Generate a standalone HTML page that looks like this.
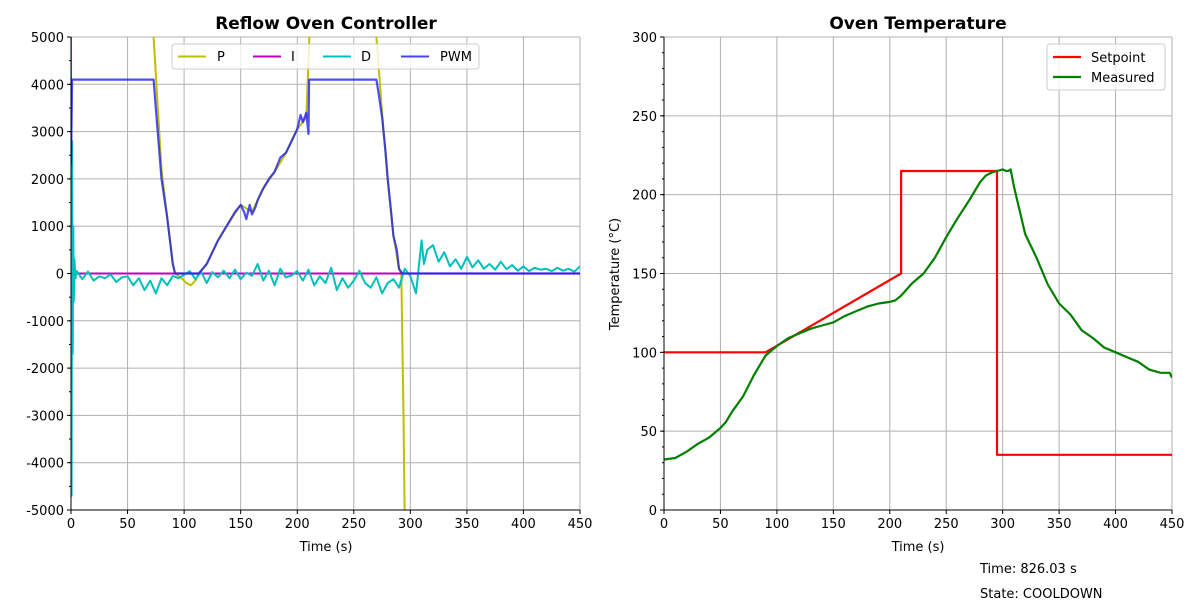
<!DOCTYPE html>
<html><head><meta charset="utf-8"><style>
body{margin:0;background:#fff;font-family:"Liberation Sans","DejaVu Sans",sans-serif}
svg text{font-family:"DejaVu Sans","Liberation Sans",sans-serif}
</style></head><body>
<svg id="s" width="1200" height="600" xmlns="http://www.w3.org/2000/svg">
<text x="326" y="29" text-anchor="middle" font-size="17" font-weight="bold">Reflow Oven Controller</text>
<text x="918" y="29" text-anchor="middle" font-size="17" font-weight="bold">Oven Temperature</text>
<text x="326" y="551" text-anchor="middle" font-size="13">Time (s)</text>
<text x="918" y="551" text-anchor="middle" font-size="13">Time (s)</text>
<text transform="translate(619,274) rotate(-90)" text-anchor="middle" font-size="13">Temperature (°C)</text>
<text x="980" y="573" font-size="13">Time: 826.03 s</text>
<text x="980" y="598" font-size="13">State: COOLDOWN</text>
</svg>
<script>
const tickX=[0,50,100,150,200,250,300,350,400,450];
const tickYL=[-5000,-4000,-3000,-2000,-1000,0,1000,2000,3000,4000,5000];
const tickYR=[0,50,100,150,200,250,300];
const pwmT=[0,1,73,75,80,85,90,92,113,120,125,130,135,140,145,150,153,155,158,160,163,165,170,175,180,185,190,195,200,203,205,208,210,210.5,270,272,275,278,280,283,285,288,290,293,450];
const pwmV=[2300,4100,4100,3500,2000,1200,200,0,0,200,450,700,900,1100,1300,1450,1300,1150,1450,1250,1400,1550,1800,2000,2150,2450,2550,2800,3050,3350,3200,3400,2950,4100,4100,3800,3300,2600,2000,1300,800,500,100,0,0];
const pT=[72.5,73,80,85,90,92,97,102,106,110,113,120,130,140,150,160,170,180,190,200,208,210,211,268,270,275,280,285,290,292,294,295];
const pV=[5200,5000,2200,1200,200,0,-80,-200,-250,-150,0,200,700,1100,1450,1300,1800,2150,2550,3050,3300,4500,5200,5200,5000,3400,2000,800,100,0,-3000,-5200];
const dT=[0,0.5,1,1.5,2,2.5,3,4,5,10,15,20,25,30,35,40,45,50,55,60,65,70,75,80,85,90,95,100,105,110,115,120,125,130,135,140,145,150,155,160,165,170,175,180,185,190,195,200,205,210,215,220,225,230,235,240,245,250,255,260,265,270,275,280,285,290,295,300,305,310,312,315,320,325,330,335,340,345,350,355,360,365,370,375,380,385,390,395,400,405,410,415,420,425,430,435,440,445,450];
const dV=[5000,-4700,2800,-1700,1000,-600,300,-100,50,-120,40,-150,-60,-100,-20,-180,-80,-60,-250,-100,-350,-150,-420,-100,-250,-50,-100,-30,50,-120,40,-200,30,-80,60,-100,80,-120,20,-50,200,-150,60,-250,100,-80,-40,50,-150,80,-250,-60,-200,120,-350,-100,-300,-150,60,-200,-300,-80,-420,-200,-120,-300,100,-50,-420,700,200,500,600,250,450,150,300,100,350,130,280,100,200,80,250,90,180,60,150,50,120,80,100,50,120,60,100,40,150];
const iT=[0,300,450];const iV=[0,0,0];
const spT=[0,90,210,210,295,295,450];
const spV=[100,100,150,215,215,35,35];
const mT=[0,10,20,30,40,50,55,60,70,80,90,100,110,120,130,140,150,160,170,180,190,200,205,210,220,230,240,250,260,270,280,285,290,295,300,303,305,307,310,315,320,330,340,350,360,370,380,390,400,410,420,430,440,448,450];
const mV=[32,33,37,42,46,52,56,62,72,86,98,104,109,112,115,117,119,123,126,129,131,132,133,136,144,150,160,173,185,196,208,212,214,215,216,215,215,216,205,190,175,160,143,131,124,114,109,103,100,97,94,89,87,87,84];
const NS='http://www.w3.org/2000/svg',svg=document.getElementById('s');
function mk(t,a,p){const e=document.createElementNS(NS,t);for(const k in a)e.setAttribute(k,a[k]);(p||svg).appendChild(e);return e;}
function axes(x0,x1,yt,yb,ymin,ymax,yt_,minor,name){
 const sx=v=>x0+(v-0)/450*(x1-x0), sy=v=>yb-(v-ymin)/(ymax-ymin)*(yb-yt);
 const g=mk('g',{});
 
 
 for(const t of tickX){mk('line',{x1:sx(t),x2:sx(t),y1:yt,y2:yb,stroke:'#b0b0b0','stroke-width':1},g);
  mk('line',{x1:sx(t),x2:sx(t),y1:yb,y2:yb+4,stroke:'#000'},g);
  const tx=mk('text',{x:sx(t),y:yb+18,'text-anchor':'middle','font-size':13},g);tx.textContent=t;
  
  }
 for(const t of yt_){mk('line',{x1:x0,x2:x1,y1:sy(t),y2:sy(t),stroke:'#b0b0b0','stroke-width':1},g);
  mk('line',{x1:x0-4,x2:x0,y1:sy(t),y2:sy(t),stroke:'#000'},g);
  const tx=mk('text',{x:x0-7,y:sy(t)+5,'text-anchor':'end','font-size':13},g);tx.textContent=t;
  
  }
 for(let v=ymin;v<=ymax;v+=minor)mk('line',{x1:x0-2,x2:x0,y1:sy(v),y2:sy(v),stroke:'#000'},g);
 return {sx,sy,g};
}
function line(ax,T,V,col,w,name,op){const d=T.map((t,i)=>(i?'L':'M')+ax.sx(t).toFixed(1)+','+ax.sy(V[i]).toFixed(1)).join('');
 const p=mk('path',{d,fill:'none',stroke:col,'stroke-width':w,'stroke-opacity':op||1,'clip-path':'url(#'+ax.clip+')','stroke-linejoin':'round'});
 
 }
const defs=mk('defs',{});
const c1=mk('clipPath',{id:'c1'},defs);mk('rect',{x:71,y:37,width:509,height:473},c1);
const c2=mk('clipPath',{id:'c2'},defs);mk('rect',{x:664,y:37,width:508,height:473},c2);
const L=axes(71,580,37,510,-5000,5000,tickYL,500,'left');L.clip='c1';
const R=axes(664,1172,37,510,0,300,tickYR,10,'right');R.clip='c2';
line(L,pT,pV,'#bfbf00',2,'series-p');
line(L,iT,iV,'#bf00bf',2,'series-i');
line(L,dT,dV,'#00bfbf',2,'series-d');
line(L,pwmT,pwmV,'#2222ee',2.2,'series-pwm',0.8);
line(R,spT,spV,'#ff0000',2.2,'series-setpoint');
line(R,mT,mV,'#008000',2.2,'series-measured');
for(const [x0,x1] of [[71,580],[664,1172]]){mk('line',{x1:x0,x2:x0,y1:37,y2:510,stroke:'#000'});mk('line',{x1:x0,x2:x1,y1:510,y2:510,stroke:'#000'});}
const lg=mk('g',{});


mk('rect',{x:172,y:44,width:307,height:25,rx:3,fill:'#fff','fill-opacity':0.8,stroke:'#ccc'},lg);
[['P','#bfbf00',178,217],['I','#bf00bf',253,291],['D','#00bfbf',323,361],['PWM','#4444ee',401,440]].forEach(([n,c,x,tx])=>{
 mk('line',{x1:x,x2:x+28,y1:56.5,y2:56.5,stroke:c,'stroke-width':2},lg);
 const t=mk('text',{x:tx,y:61,'font-size':13},lg);t.textContent=n;
 
 });
const rg=mk('g',{});


mk('rect',{x:1047,y:44,width:118,height:46,rx:3,fill:'#fff','fill-opacity':0.8,stroke:'#ccc'},rg);
[['Setpoint','#ff0000',57],['Measured','#008000',77]].forEach(([n,c,y])=>{
 mk('line',{x1:1053,x2:1081,y1:y,y2:y,stroke:c,'stroke-width':2.2},rg);
 const t=mk('text',{x:1091,y:y+5,'font-size':13},rg);t.textContent=n;
 
 });
</script>
</body></html>
